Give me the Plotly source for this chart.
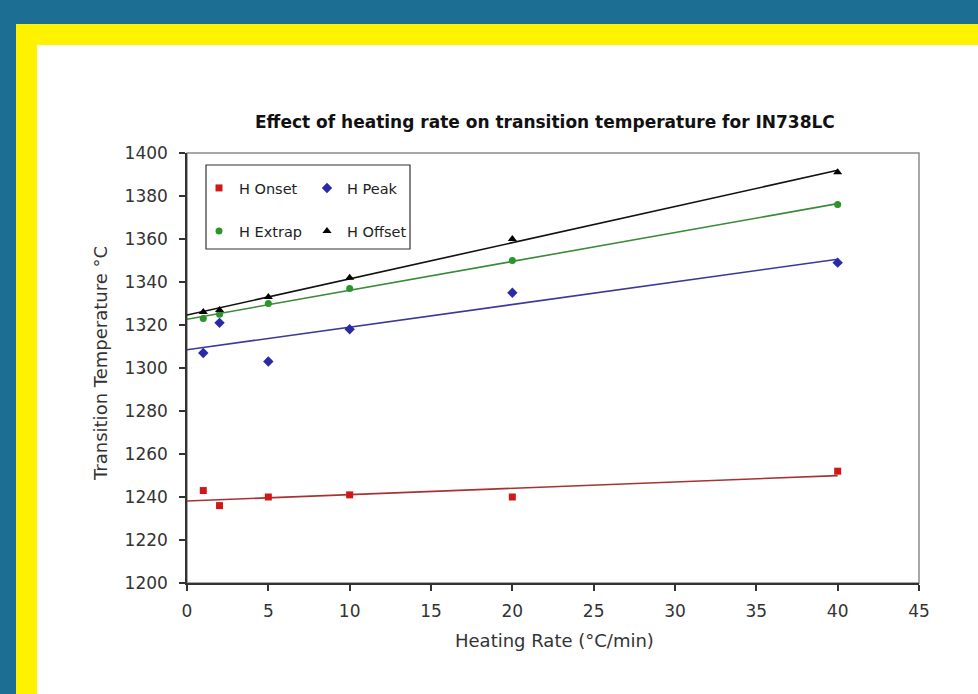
import numpy as np
import plotly.graph_objects as go

# ---- data ----
heating_rate = [1, 2, 5, 10, 20, 40]
h_onset = [1243, 1236, 1240, 1241, 1240, 1252]
h_peak = [1307, 1321, 1303, 1318, 1335, 1349]
h_extrap = [1323, 1325, 1330, 1337, 1350, 1376]
h_offset = [1326, 1327, 1333, 1342, 1360, 1391]

series_names = ["H Onset", "H Peak", "H Extrap", "H Offset"]
x_ticks = [0, 5, 10, 15, 20, 25, 30, 35, 40, 45]
y_ticks = [1200, 1220, 1240, 1260, 1280, 1300, 1320, 1340, 1360, 1380, 1400]

W, H = 978, 694
L, R, T, B = 187, 59, 153, 111
PW, PH = W - L - R, H - T - B


def px(xp):
    return (xp - L) / PW


def py(yp):
    return (H - B - yp) / PH


FONT = "DejaVu Sans"
BLUE = "#1c6f93"

styles = [
    dict(marker=dict(symbol="square", size=7, color="#d01818"), line="#a83232", legend="legend"),
    dict(marker=dict(symbol="diamond", size=8, color="#2a2aa8"), line="#3a3a98", legend="legend"),
    dict(marker=dict(symbol="circle", size=7, color="#2a962a"), line="#3a8a3a", legend="legend2"),
    dict(marker=dict(symbol="triangle-up", size=8, color="#000000"), line="#111111", legend="legend2"),
]

fig = go.Figure()
all_series = [h_onset, h_peak, h_extrap, h_offset]
x_fit = np.array([0, max(heating_rate)])
for name, vals, st in zip(series_names, all_series, styles):
    k, b = np.polyfit(heating_rate, vals, 1)
    fig.add_trace(go.Scatter(
        x=x_fit, y=k * x_fit + b, mode="lines",
        line=dict(color=st["line"], width=1.6),
        showlegend=False, hoverinfo="skip"))
for name, vals, st in zip(series_names, all_series, styles):
    fig.add_trace(go.Scatter(
        x=heating_rate, y=vals, mode="markers", name=name,
        marker=st["marker"], legend=st["legend"]))

shapes = [
    dict(type="rect", xref="paper", yref="paper", layer="below",
         x0=px(16), x1=px(W + 20), y0=py(H + 20), y1=py(24),
         fillcolor="#fff200", line=dict(width=0)),
    dict(type="rect", xref="paper", yref="paper", layer="below",
         x0=px(37), x1=px(W + 20), y0=py(H + 20), y1=py(45),
         fillcolor="#ffffff", line=dict(width=0)),
    dict(type="rect", xref="paper", yref="paper", layer="below",
         x0=0, x1=1, y0=0, y1=1,
         fillcolor="rgba(0,0,0,0)", line=dict(color="#8a8a8a", width=1.5)),
    # legend box
    dict(type="rect", xref="paper", yref="paper", layer="below",
         x0=px(206), x1=px(410), y0=py(249), y1=py(165),
         fillcolor="rgba(0,0,0,0)", line=dict(color="#333333", width=1.2)),
]

annotations = [
    dict(text="<b>Effect of heating rate on transition temperature for IN738LC</b>",
         xref="paper", yref="paper", x=px(545), y=py(122), showarrow=False,
         xanchor="center", yanchor="middle",
         font=dict(family=FONT, size=17, color="#111111")),
    dict(text="Heating Rate (°C/min)", xref="paper", yref="paper",
         x=px(554), y=py(640), showarrow=False, xanchor="center", yanchor="middle",
         font=dict(family=FONT, size=18, color="#333333")),
    dict(text="Transition Temperature °C", xref="paper", yref="paper",
         x=px(100), y=py(364), showarrow=False, xanchor="center", yanchor="middle",
         textangle=-90, font=dict(family=FONT, size=18, color="#333333")),
]

legend_common = dict(orientation="h", bgcolor="rgba(0,0,0,0)", borderwidth=0,
                     font=dict(family=FONT, size=14.5, color="#222222"),
                     entrywidth=63, entrywidthmode="pixels", itemwidth=30,
                     xanchor="left", yanchor="middle", tracegroupgap=0)

fig.update_layout(
    width=W, height=H,
    margin=dict(l=L, r=R, t=T, b=B, autoexpand=False),
    paper_bgcolor=BLUE, plot_bgcolor="#ffffff",
    showlegend=True,
    shapes=shapes, annotations=annotations,
    legend=dict(x=px(199), y=py(188), **legend_common),
    legend2=dict(x=px(199), y=py(231), **legend_common),
    xaxis=dict(range=[0, 45], tickvals=x_ticks, showgrid=False, zeroline=False,
               showline=True, linecolor="#333333", linewidth=1.5,
               ticks="outside", ticklen=6, tickcolor="#333333", tickwidth=1.5,
               ticklabelstandoff=6,
               tickfont=dict(family=FONT, size=17, color="#333333")),
    yaxis=dict(range=[1200, 1400], tickvals=y_ticks, showgrid=False, zeroline=False,
               showline=True, linecolor="#333333", linewidth=1.5,
               ticks="outside", ticklen=6, tickcolor="#333333", tickwidth=1.5,
               ticklabelstandoff=8,
               tickfont=dict(family=FONT, size=17, color="#333333")),
)

fig.write_html(
    "out.html",
    config={"displayModeBar": False},
    post_script="document.body.style.margin='0';document.body.style.background='%s';" % BLUE,
)
